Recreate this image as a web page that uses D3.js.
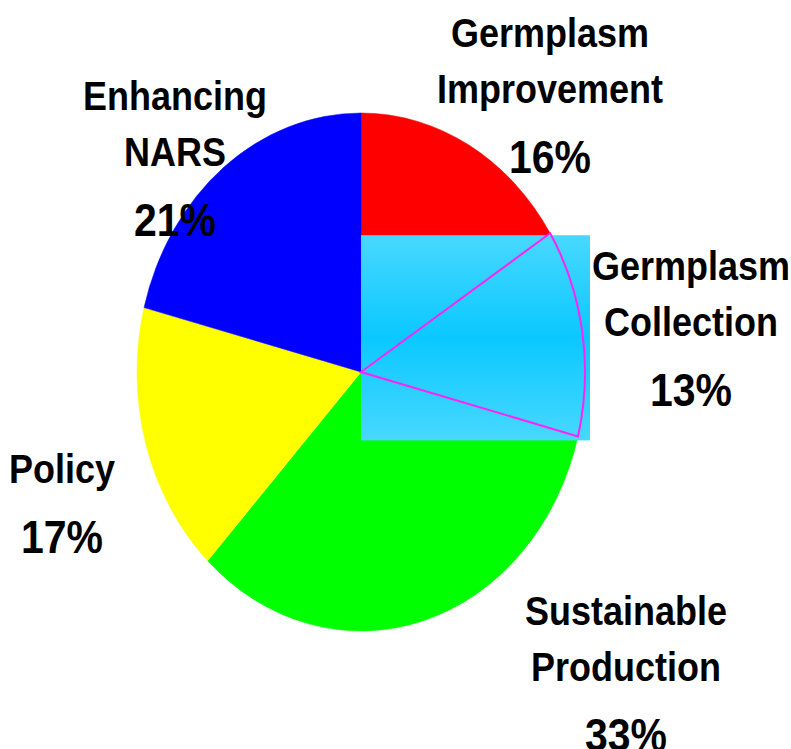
<!DOCTYPE html>
<html lang="en">
<head>
<meta charset="UTF-8">
<title>Pie</title>
<script src="https://cdn.jsdelivr.net/npm/d3@7"></script>
<style>
  body { margin: 0; background: #fff; }
  text { font-family: "Liberation Sans", Arial, sans-serif; font-weight: bold; fill: #000; }
</style>
</head>
<body>
<div id="chart"></div>
<script>
// data, clockwise from 12 o'clock
var categories = ["Germplasm Improvement", "Germplasm Collection", "Sustainable Production", "Policy", "Enhancing NARS"];
var labelLines = [["Germplasm", "Improvement"], ["Germplasm", "Collection"], ["Sustainable", "Production"], ["Policy"], ["Enhancing", "NARS"]];
var values = [16, 13, 33, 17, 21];
var pctLabels = ["16%", "13%", "33%", "17%", "21%"];

var colors = ["#ff0000", "url(#cyanGrad)", "#00ff00", "#ffff00", "#0000ff"];
// where each label block sits (x center, first baseline)
var labelAt = [[550, 47], [691, 280], [626, 625], [62, 483], [175, 110]];

var W = 791, H = 749;
var cx = 361, cy = 372, rx = 224, ry = 259;

var svg = d3.select("#chart").append("svg").attr("width", W).attr("height", H);

var grad = svg.append("defs").append("linearGradient")
    .attr("id", "cyanGrad").attr("x1", 0).attr("y1", 0).attr("x2", 0).attr("y2", 1);
grad.append("stop").attr("offset", "0%").attr("stop-color", "#48d8ff");
grad.append("stop").attr("offset", "50%").attr("stop-color", "#0ac8ff");
grad.append("stop").attr("offset", "100%").attr("stop-color", "#48d8ff");

var pie = d3.pie().sort(null).value(function(d) { return d; });
var arcs = pie(values);
var arc = d3.arc().innerRadius(0).outerRadius(ry);
var k = rx / ry;

// ellipse: squeeze the circle horizontally
var g = svg.append("g")
    .attr("transform", "translate(" + cx + "," + cy + ") scale(" + k + ",1)");

g.selectAll("path.slice").data(arcs).enter()
    .filter(function(d, i) { return i != 1; })
    .append("path")
    .attr("class", "slice")
    .attr("d", arc)
    .attr("fill", function(d) { return colors[d.index]; })
    .attr("stroke", function(d) { return colors[d.index]; })
    .attr("stroke-width", 0.5)
    .attr("vector-effect", "non-scaling-stroke");

// collection slice: gradient box over its bounds, magenta outline on top
var coll = g.append("path").attr("d", arc(arcs[1]));
var bb = coll.node().getBBox();
coll.remove();
svg.append("rect")
    .attr("x", cx + bb.x * k)
    .attr("y", cy + bb.y + 2)
    .attr("width", bb.width * k + 5)
    .attr("height", bb.height + 2)
    .attr("fill", colors[1]);
svg.append("g")
    .attr("transform", "translate(" + cx + "," + cy + ") scale(" + k + ",1)")
    .append("path")
    .attr("d", arc(arcs[1]))
    .attr("fill", "none")
    .attr("stroke", "#ff22ff")
    .attr("stroke-width", 2)
    .attr("vector-effect", "non-scaling-stroke");

// labels
categories.forEach(function(c, i) {
    var x = labelAt[i][0], y = labelAt[i][1];
    labelLines[i].forEach(function(t, j) {
        svg.append("text")
            .attr("text-anchor", "middle")
            .attr("transform", "translate(" + x + "," + (y + j * 56) + ") scale(1,1.12)")
            .style("font-size", "36px")
            .text(t);
    });
    svg.append("text")
        .attr("text-anchor", "middle")
        .attr("transform", "translate(" + x + "," + (y + (labelLines[i].length - 1) * 56 + 70) + ") scale(1,1.12)")
        .style("font-size", "41px")
        .text(pctLabels[i]);
});
</script>
</body>
</html>
